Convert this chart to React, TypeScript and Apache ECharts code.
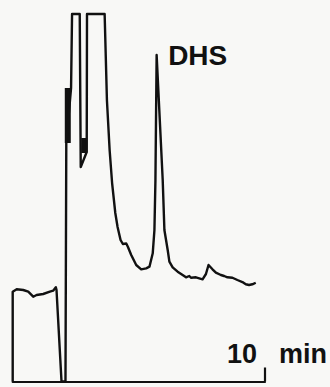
import React, { useEffect, useRef } from "react";
import * as echarts from "echarts";

// Retention time (min) and detector response (% of full scale, 100 = off-scale)
const times: number[] = [
  -2.5, -2.5, -2.303, -1.977, -1.73, -1.483, -1.316, -0.99, -0.659, -0.496, -0.363, -0.329,
  -0.082, 0.115, 0.155, 0.392, 0.441, 0.821, 0.871, 1.167, 1.181, 2.055, 2.168, 2.302,
  2.425, 2.583, 2.696, 2.844, 2.958, 3.126, 3.205, 3.372, 3.619, 3.866, 4.113, 4.276,
  4.438, 4.522, 4.572, 4.631, 4.932, 5.016, 5.179, 5.263, 5.425, 5.672, 5.919, 6.087,
  6.249, 6.333, 6.58, 6.906, 7.074, 7.202, 7.399, 7.567, 7.814, 7.977, 8.14, 8.386,
  8.633, 8.88, 9.048, 9.21, 9.373, 9.541,
];
const response: number[] = [
  0, 24.44, 25.09, 24.9, 24.44, 23.07, 23.54, 23.81, 24.44, 24.71, 25.63, 24.9,
  0, 0, 64.9, 79.86, 100, 100, 58.37, 62.45, 100, 100, 76.6, 62.99,
  54.01, 45.85, 42.04, 38.5, 37.41, 37.55, 36.68, 34.42, 31.7, 30.53, 30.8, 31.24,
  34.88, 41.22, 54.83, 88.84, 54.83, 41.22, 35.78, 32.6, 31.07, 29.88, 28.98, 28.35,
  28.71, 28.24, 28.35, 27.81, 29.25, 31.7, 30.53, 29.61, 28.98, 28.71, 28.35, 28.24,
  27.62, 27.07, 26.45, 26.26, 26.45, 26.88,
];
// Recorder pen over-strike marks on the off-scale peaks: [time, from, to]
const penMarks: [number, number, number][] = [
  [0.229, 64.9, 79.86],
  [1.043, 62.18, 66.26],
];
// Labelled peaks
const peakNames: string[] = ["DHS"];
const peakTimes: number[] = [4.631];
const peakValues: number[] = [88.84];
// Time axis
const timeMin = -2.5;
const timeMax = 10;
const tickValues: number[] = [10];
const timeUnit = "min";

const INK = "#111111";

export default function App() {
  const ref = useRef<HTMLDivElement>(null);
  useEffect(() => {
    if (!ref.current) return;
    const chart = echarts.init(ref.current, undefined, { renderer: "svg" });
    const trace = times.map((t, i) => [t, response[i]]);
    const markSeries = penMarks.map((m, i) => ({
      type: "line",
      name: "pen" + i,
      data: [
        [m[0], m[1]],
        [m[0], m[2]],
      ],
      showSymbol: false,
      symbol: "none",
      clip: false,
      lineStyle: { color: INK, width: 6, cap: "butt" },
      z: 3,
    }));
    chart.setOption({
      animation: false,
      backgroundColor: "#f8f8f6",
      grid: { left: 12.7, right: 64, top: 14, bottom: 5.5 },
      xAxis: {
        type: "value",
        min: timeMin,
        max: timeMax,
        name: timeUnit,
        nameLocation: "end",
        nameGap: 14,
        nameTextStyle: {
          fontFamily: "Liberation Sans",
          fontWeight: "bold",
          fontSize: 27,
          color: INK,
          verticalAlign: "bottom",
          align: "left",
          padding: [0, 0, 14, 0],
        },
        axisLine: { show: true, lineStyle: { color: INK, width: 2.2 } },
        axisTick: {
          show: true,
          inside: true,
          length: 14,
          customValues: tickValues,
          lineStyle: { color: INK, width: 2.2 },
        },
        axisLabel: {
          show: true,
          inside: true,
          customValues: tickValues,
          margin: 14,
          align: "right",
          padding: [0, 8, 0, 0],
          fontFamily: "Liberation Sans",
          fontWeight: "bold",
          fontSize: 27,
          color: INK,
        },
        splitLine: { show: false },
      },
      yAxis: {
        type: "value",
        min: 0,
        max: 100,
        show: false,
      },
      series: [
        {
          type: "line",
          name: "trace",
          data: trace,
          showSymbol: false,
          symbol: "none",
          clip: false,
          lineStyle: { color: INK, width: 2.4, join: "round" },
          z: 4,
        },
        ...markSeries,
        {
          type: "scatter",
          name: "peaks",
          data: peakNames.map((n, i) => ({ name: n, value: [peakTimes[i], peakValues[i]] })),
          symbolSize: 1,
          itemStyle: { color: "transparent", opacity: 1 },
          clip: false,
          label: {
            show: true,
            position: "right",
            distance: 11,
            formatter: (p: any) => p.name,
            fontFamily: "Liberation Sans",
            fontWeight: "bold",
            fontSize: 28,
            color: INK,
            opacity: 1,
          },
          z: 5,
        },
      ],
    });
    return () => chart.dispose();
  }, []);
  return (
    <div
      ref={ref}
      style={{ position: "absolute", left: 0, top: 0, width: 330, height: 387 }}
    />
  );
}
